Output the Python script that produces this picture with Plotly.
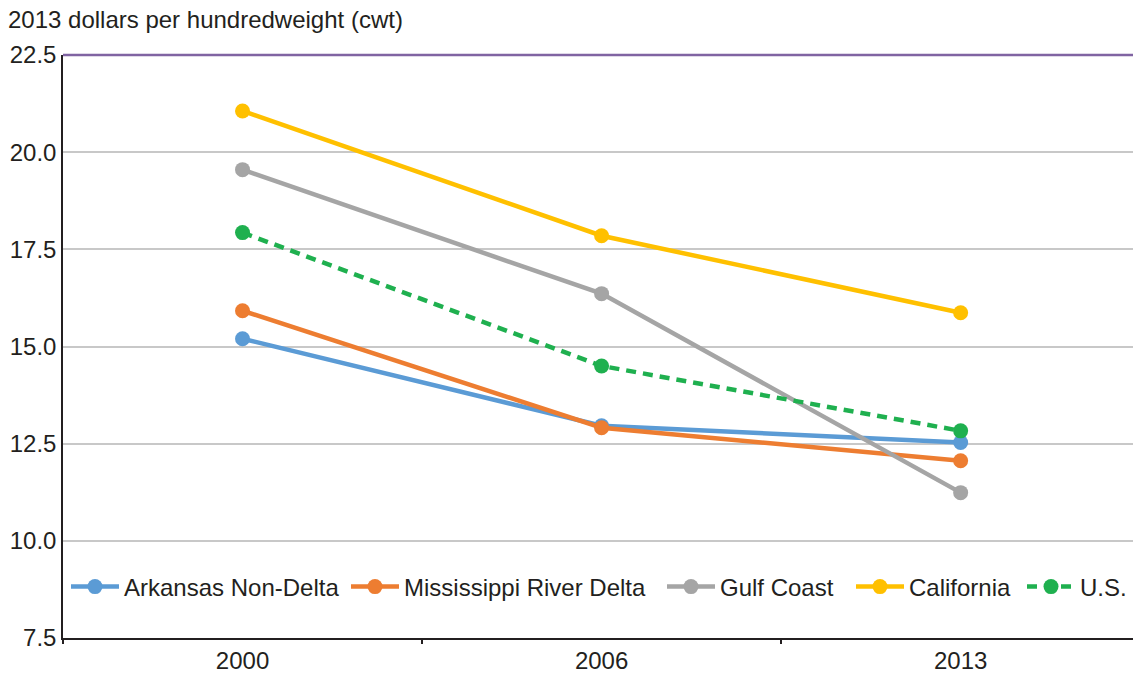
import plotly.graph_objects as go

years = ["2000", "2006", "2013"]
arkansas = [15.2, 12.96, 12.53]
mississippi = [15.92, 12.91, 12.06]
gulf = [19.55, 16.36, 11.24]
california = [21.06, 17.85, 15.87]
us = [17.93, 14.5, 12.83]

series = [
    ("Arkansas Non-Delta", arkansas, "#5B9BD5", "solid"),
    ("Mississippi River Delta", mississippi, "#ED7D31", "solid"),
    ("Gulf Coast", gulf, "#A5A5A5", "solid"),
    ("California", california, "#FFC000", "solid"),
    ("U.S.", us, "#1FB04F", "10px,7px"),
]
legend_left_px = [66, 346, 662, 851, 1022]

font = "Liberation Sans, Arial, sans-serif"
FS = 24
PLOT_L, PLOT_W = 63, 1070

fig = go.Figure()
legends = {}
for i, (name, vals, color, dash) in enumerate(series):
    lg = "legend" if i == 0 else f"legend{i + 1}"
    fig.add_trace(go.Scatter(
        x=years, y=vals, name=name, mode="lines+markers",
        line=dict(color=color, width=4.5, dash=dash),
        marker=dict(color=color, size=15), legend=lg,
    ))
    legends[lg] = dict(orientation="h", x=(legend_left_px[i] - PLOT_L) / PLOT_W, y=0.0875,
                       xanchor="left", yanchor="middle",
                       font=dict(size=FS, color="#231f20"), bgcolor="rgba(0,0,0,0)",
                       itemwidth=48)

fig.update_layout(
    width=1133, height=673,
    margin=dict(l=63, r=0, t=55, b=35, autoexpand=False),
    paper_bgcolor="white", plot_bgcolor="white",
    font=dict(family=font, size=FS, color="#231f20"),
    showlegend=True,
    xaxis=dict(type="category", tickson="boundaries", ticks="outside", ticklen=4,
               tickwidth=1.5, tickcolor="#231f20", showline=True, linecolor="#231f20",
               linewidth=1.5, showgrid=False, range=[-0.5, 2.48],
               tickfont=dict(size=FS), automargin=False),
    yaxis=dict(range=[7.5, 22.5], tick0=7.5, dtick=2.5, tickformat=".1f",
               showgrid=True, gridcolor="#c8c8c8", gridwidth=1.5,
               showline=True, linecolor="#231f20", linewidth=1.5, ticks="",
               zeroline=False, tickfont=dict(size=FS), automargin=False),
    annotations=[dict(text="2013 dollars per hundredweight (cwt)", xref="paper", yref="paper",
                      x=-57/1070, y=1 + 35/583, xanchor="left", yanchor="middle",
                      showarrow=False, font=dict(size=FS, color="#231f20"))],
    shapes=[dict(type="line", xref="paper", yref="paper", x0=0, x1=1, y0=1, y1=1,
                 line=dict(color="#8064A2", width=2.5))],
    **legends,
)

fig.write_html("out.html", config={"displayModeBar": False},
               post_script="document.body.style.margin='0';document.body.style.overflow='hidden';")
